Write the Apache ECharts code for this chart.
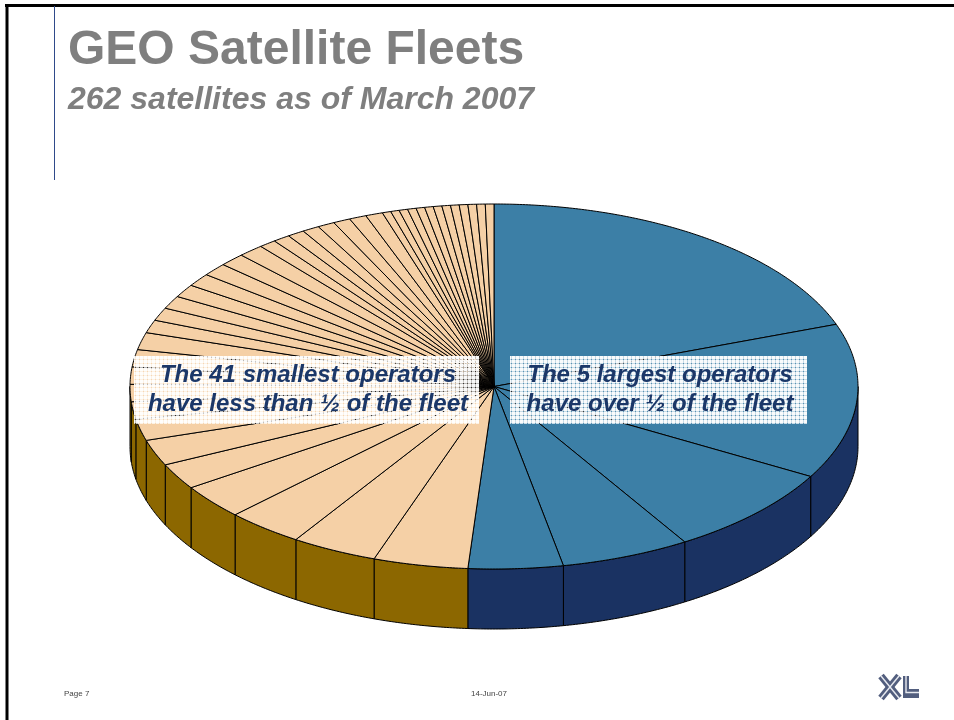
<!DOCTYPE html>
<html>
<head>
<meta charset="utf-8">
<style>html,body{margin:0;padding:0;background:#fff}#c{width:954px;height:720px}</style>
<script src="https://cdn.jsdelivr.net/npm/echarts@6/dist/echarts.min.js"></script>
</head>
<body>
<div id="c"></div>
<script>
// Satellites per operator, clockwise from 12 o'clock
var largestOperators = [51, 36, 21, 15, 11];
var smallestOperators = [11, 10, 9, 8, 6, 6, 5, 4, 4, 4, 4, 4, 3, 3, 3, 3, 3, 3, 3, 3, 2, 2, 2, 2, 2, 2, 2, 2, 1, 1, 1, 1, 1, 1, 1, 1, 1, 1, 1, 1, 1];
var titleText = 'GEO Satellite Fleets';
var subtitleText = '262 satellites as of March 2007';
var leftNote = 'The 41 smallest operators\nhave less than \u00BD of the fleet';
var rightNote = 'The 5 largest operators\nhave over \u00BD of the fleet';

var topColors = ['#3C7FA6', '#F5D0A6'];
var wallColors = ['#1A3262', '#8C6700'];
var CX = 494, CY = 386.5, RX = 364, RY = 182.5, DEPTH = 60;

var total = 0;
var rows = [];
largestOperators.forEach(function (v) { rows.push([v, total, 0]); total += v; });
smallestOperators.forEach(function (v) { rows.push([v, total, 1]); total += v; });

function rim(deg, dy) {
  var a = deg * Math.PI / 180;
  return [CX + RX * Math.sin(a), CY - RY * Math.cos(a) + dy];
}
function arc(a, b, dy) {
  var n = Math.max(2, Math.ceil(Math.abs(b - a) / 0.5)), pts = [];
  for (var i = 0; i <= n; i++) pts.push(rim(a + (b - a) * i / n, dy));
  return pts;
}
function renderTop(params, api) {
  var a = api.value(1) / total * 360;
  var b = (api.value(1) + api.value(0)) / total * 360;
  return {
    type: 'polygon',
    shape: { points: [[CX, CY]].concat(arc(a, b, 0)) },
    style: { fill: topColors[api.value(2)], stroke: '#000', lineWidth: 1, lineJoin: 'round' }
  };
}
function renderWall(params, api) {
  var a = Math.max(api.value(1) / total * 360, 90);
  var b = Math.min((api.value(1) + api.value(0)) / total * 360, 270);
  if (b <= a) return null;
  return {
    type: 'polygon',
    shape: { points: arc(a, b, 0).concat(arc(b, a, DEPTH)) },
    style: { fill: wallColors[api.value(2)], stroke: '#000', lineWidth: 1, lineJoin: 'round' }
  };
}

// Halftone fill of the note boxes
var tile = document.createElement('canvas');
tile.width = 4; tile.height = 4;
var tc = tile.getContext('2d');
for (var ty = 0; ty < 4; ty++) for (var tx = 0; tx < 4; tx++) {
  var alpha = (tx === 3 && ty === 3) ? 0.15 : (tx === 3 || ty === 3) ? 0.72 : 0.97;
  tc.fillStyle = 'rgba(255,255,255,' + alpha + ')';
  tc.fillRect(tx, ty, 1, 1);
}

function noteText(x, text) {
  return {
    type: 'text', z: 21, x: x, y: 390,
    style: {
      text: text, align: 'center', verticalAlign: 'middle', lineHeight: 29,
      font: 'italic bold 24px "Liberation Sans", Arial, sans-serif', fill: '#1B3768'
    }
  };
}
function rule(x1, y1, x2, y2, w, color) {
  return { type: 'line', z: 30, shape: { x1: x1, y1: y1, x2: x2, y2: y2 }, style: { stroke: color, lineWidth: w } };
}
var logoDark = '#525E7E';
var chart = echarts.init(document.getElementById('c'), null, { renderer: 'canvas' });
chart.setOption({
  animation: false,
  backgroundColor: '#fff',
  title: {
    text: titleText, subtext: subtitleText, left: 63, top: 20, itemGap: 5,
    textStyle: { fontFamily: '"Liberation Sans", Arial, sans-serif', fontWeight: 'bold', fontSize: 48, color: '#7F7F7F', lineHeight: 52 },
    subtextStyle: { fontFamily: '"Liberation Sans", Arial, sans-serif', fontWeight: 'bold', fontStyle: 'italic', fontSize: 32, color: '#7F7F7F', lineHeight: 36 }
  },
  series: [
    { type: 'custom', coordinateSystem: 'none', silent: true, clip: false, z: 2, data: rows, renderItem: renderWall },
    { type: 'custom', coordinateSystem: 'none', silent: true, clip: false, z: 3, data: rows, renderItem: renderTop }
  ],
  graphic: [
    rule(5, 5.5, 954, 5.5, 3, '#000'),
    rule(7, 4, 7, 720, 3, '#000'),
    rule(54.5, 6, 54.5, 180, 1, '#2F4A8A'),
    { type: 'rect', z: 20, shape: { x: 134, y: 356, width: 345, height: 68 }, style: { fill: { image: tile, repeat: 'repeat' } } },
    { type: 'rect', z: 20, shape: { x: 510, y: 356, width: 297, height: 68 }, style: { fill: { image: tile, repeat: 'repeat' } } },
    noteText(308, leftNote),
    noteText(660, rightNote),
    { type: 'text', z: 21, x: 64, y: 694, style: { text: 'Page 7', align: 'left', verticalAlign: 'middle', font: '8px "Liberation Sans", Arial, sans-serif', fill: '#444' } },
    { type: 'text', z: 21, x: 489, y: 694, style: { text: '14-Jun-07', align: 'center', verticalAlign: 'middle', font: '8px "Liberation Sans", Arial, sans-serif', fill: '#444' } },
    // XL logo
    rule(881, 676, 899, 698, 7, logoDark),
    rule(899, 676, 881, 698, 7, logoDark),
    rule(881, 676, 899, 698, 1.4, '#E8EAF0'),
    rule(899, 676, 881, 698, 1.4, '#E8EAF0'),
    { type: 'polygon', z: 30, shape: { points: [[903, 676], [909, 676], [909, 689], [919, 689], [919, 698], [903, 698]] }, style: { fill: logoDark } },
    { type: 'polyline', z: 31, shape: { points: [[906, 676], [906, 692.5], [919, 692.5]] }, style: { stroke: '#E8EAF0', lineWidth: 1.4, fill: null } }
  ]
});
</script>
</body>
</html>
